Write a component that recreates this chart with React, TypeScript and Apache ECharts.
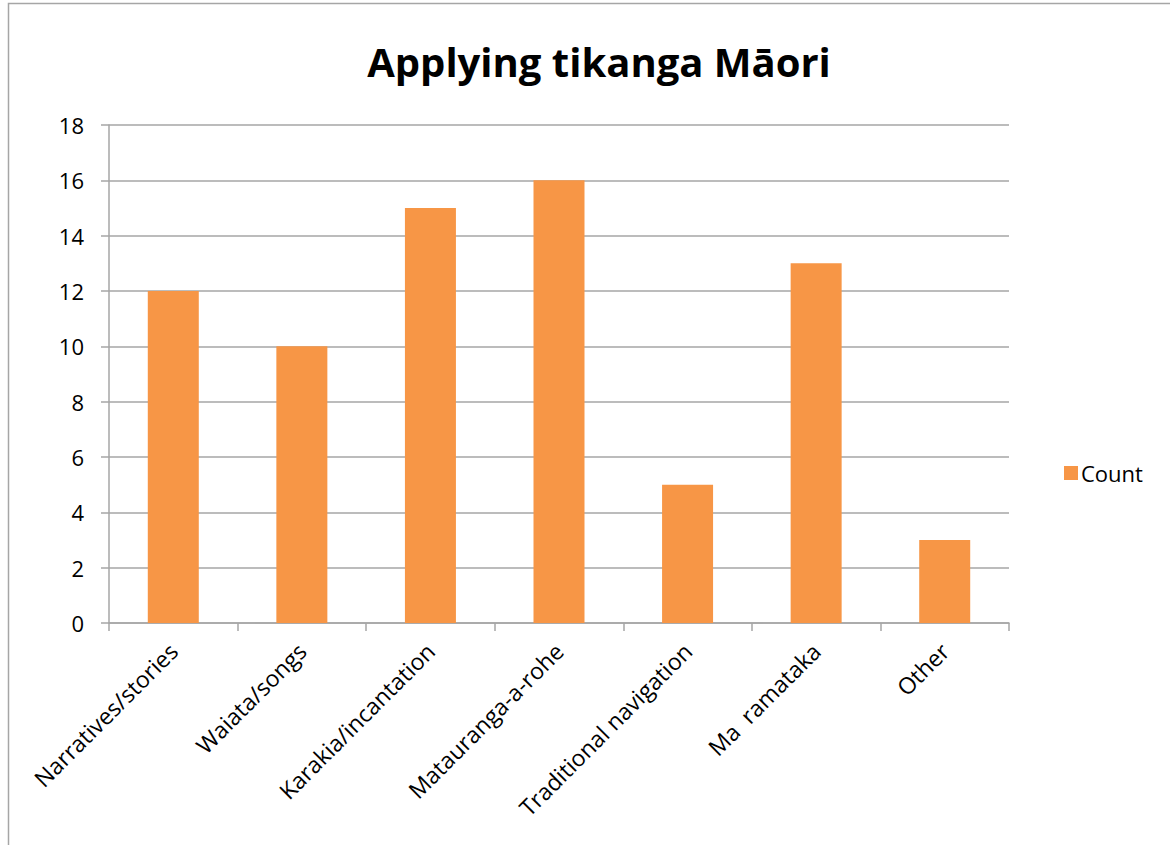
import React, { useEffect, useRef } from "react";
import * as echarts from "echarts";

const categories = [
  "Narratives/stories",
  "Waiata/songs",
  "Karakia/incantation",
  "Matauranga-a-rohe",
  "Traditional navigation",
  "Ma  ramataka",
  "Other",
];
const countValues = [12, 10, 15, 16, 5, 13, 3];
const seriesName = "Count";
const chartTitle = "Applying tikanga Māori";

const FONT = "'Open Sans', 'Noto Sans', sans-serif";
const GRAY = "#a6a6a6";

export default function App() {
  const ref = useRef<HTMLDivElement>(null);
  useEffect(() => {
    if (!ref.current) return;
    const chart = echarts.init(ref.current, null, { renderer: "svg" });
    chart.setOption({
      animation: false,
      backgroundColor: "#ffffff",
      textStyle: { fontFamily: FONT },
      graphic: [
        {
          type: "rect",
          shape: { x: 8.5, y: 3.5, width: 1300, height: 1000 },
          style: { fill: "none", stroke: GRAY, lineWidth: 1.5 },
          silent: true,
        },
      ],
      title: {
        text: chartTitle,
        left: 594,
        top: 36,
        textAlign: "center",
        textStyle: {
          fontFamily: FONT,
          fontWeight: "bold",
          fontSize: 40,
          color: "#000000",
        },
      },
      legend: {
        left: 1059,
        top: 457,
        orient: "vertical",
        icon: "rect",
        itemWidth: 14,
        itemHeight: 14,
        itemGap: 6,
        textStyle: { fontFamily: FONT, fontSize: 22, color: "#000000", padding: [0, 0, 0, -2] },
        data: [seriesName],
      },
      grid: { left: 109, right: 161, top: 125, bottom: 222, containLabel: false },
      xAxis: {
        type: "category",
        data: categories,
        boundaryGap: true,
        axisLine: { show: true, lineStyle: { color: GRAY, width: 1.5 } },
        axisTick: { show: true, length: 8, alignWithLabel: false, lineStyle: { color: GRAY, width: 1.5 } },
        axisLabel: {
          interval: 0,
          rotate: 45,
          margin: 24,
          fontFamily: FONT,
          fontSize: 23,
          color: "#000000",
        },
        splitLine: { show: false },
      },
      yAxis: {
        type: "value",
        min: 0,
        max: 18,
        interval: 2,
        axisLine: { show: true, lineStyle: { color: GRAY, width: 1.5 } },
        axisTick: { show: true, length: 8, lineStyle: { color: GRAY, width: 1.5 } },
        axisLabel: { margin: 25, fontFamily: FONT, fontSize: 22, color: "#000000" },
        splitLine: { show: true, lineStyle: { color: GRAY, width: 1.5 } },
      },
      series: [
        {
          name: seriesName,
          type: "bar",
          data: countValues,
          barWidth: 51,
          itemStyle: { color: "#f79646" },
        },
      ],
    });
    return () => chart.dispose();
  }, []);
  return (
    <div
      ref={ref}
      style={{ position: "fixed", left: 0, top: 0, width: 1170, height: 845 }}
    />
  );
}
